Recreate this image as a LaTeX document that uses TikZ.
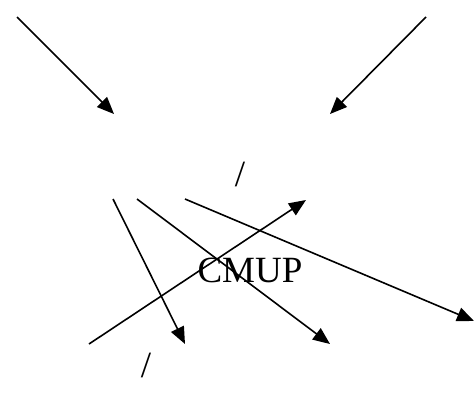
\documentclass[tikz,border=0pt]{standalone}
\usepackage{fontspec}
\setmainfont{Liberation Serif}
\usetikzlibrary{arrows.meta}
\begin{document}
\begin{tikzpicture}[x=1pt,y=-1pt,
  arr/.style={line width=1.6pt,-{Triangle[length=17pt,width=14pt]}},
  lbl/.style={font=\fontsize{37}{40}\selectfont,inner sep=0pt,anchor=base}]
\useasboundingbox (0,0) rectangle (476,394);
\coordinate (a1) at (17,17);   \coordinate (b1) at (114,114);
\coordinate (a2) at (426,17);  \coordinate (b2) at (330,114);
\coordinate (a3) at (113,199); \coordinate (b3) at (185,344);
\coordinate (a4) at (137,199); \coordinate (b4) at (330,344);
\coordinate (a5) at (185,199); \coordinate (b5) at (474,321);
\coordinate (a6) at (89,344);  \coordinate (b6) at (306,200);
\draw[arr] (a1) -- (b1);
\draw[arr] (a2) -- (b2);
\draw[arr] (a3) -- (b3);
\draw[arr] (a4) -- (b4);
\draw[arr] (a5) -- (b5);
\draw[arr] (a6) -- (b6);
\node[lbl] (s1) at (240,186) {/};
\node[lbl] (s2) at (146,377) {/};
\node[lbl] (cmup) at (250,282) {CMUP};
\end{tikzpicture}
\end{document}
